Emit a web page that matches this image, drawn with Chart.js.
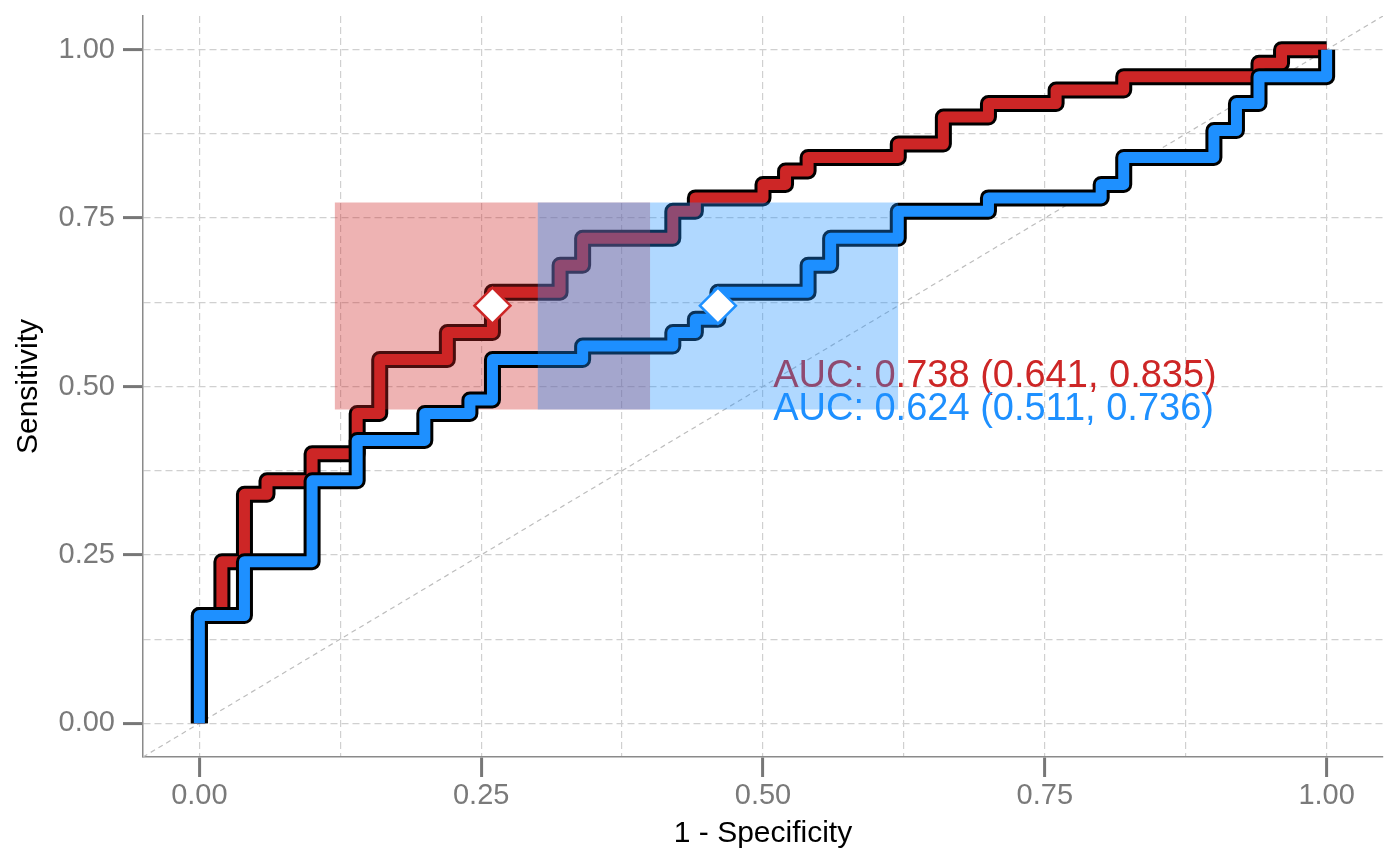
<!DOCTYPE html>
<html>
<head>
<meta charset="utf-8">
<script src="https://cdn.jsdelivr.net/npm/chart.js@4.4.1/dist/chart.umd.min.js"></script>
<style>
  html, body { margin: 0; padding: 0; background: #fff; }
  canvas { display: block; }
</style>
</head>
<body>
<canvas id="roc" width="1400" height="866"></canvas>
<script>
// ROC steps: 1 - specificity and the sensitivity reached at that point
var redFpr = [0, 0, 0.02, 0.04, 0.06, 0.10, 0.14, 0.16, 0.22, 0.26, 0.32, 0.34, 0.42, 0.44, 0.50, 0.52, 0.54, 0.62, 0.66, 0.70, 0.76, 0.82, 0.94, 0.96, 1.00];
var redTpr = [0, 0.16, 0.24, 0.34, 0.36, 0.40, 0.46, 0.54, 0.58, 0.64, 0.68, 0.72, 0.76, 0.78, 0.80, 0.82, 0.84, 0.86, 0.90, 0.92, 0.94, 0.96, 0.98, 1.00, 1.00];
var blueFpr = [0, 0, 0.04, 0.10, 0.14, 0.20, 0.24, 0.26, 0.34, 0.42, 0.44, 0.46, 0.54, 0.56, 0.62, 0.70, 0.80, 0.82, 0.90, 0.92, 0.94, 1.00];
var blueTpr = [0, 0.16, 0.24, 0.36, 0.42, 0.46, 0.48, 0.54, 0.56, 0.58, 0.60, 0.64, 0.68, 0.72, 0.76, 0.78, 0.80, 0.84, 0.88, 0.92, 0.96, 1.00];

// best threshold (fpr, tpr)
var redBest = [0.26, 0.62];
var blueBest = [0.46, 0.62];

// confidence boxes [from, to]
var redBoxFpr = [0.12, 0.40];
var redBoxTpr = [0.466, 0.773];
var blueBoxFpr = [0.30, 0.62];
var blueBoxTpr = [0.466, 0.773];

var redAuc = 'AUC: 0.738 (0.641, 0.835)';
var blueAuc = 'AUC: 0.624 (0.511, 0.736)';

var axisRange = [-0.05, 1.05];
var tickValues = [0, 0.25, 0.5, 0.75, 1];
var tickLabels = ['0.00', '0.25', '0.50', '0.75', '1.00'];
var minorValues = [0.125, 0.375, 0.625, 0.875];

var RED = '#cd2626', BLUE = '#1e90ff';
var FONT = '"Liberation Sans", Arial, Helvetica, sans-serif';
Chart.defaults.font.family = FONT;

function points(xs, ys) {
  return xs.map(function (x, i) { return {x: x, y: ys[i]}; });
}

function stepLine(label, xs, ys, color, width) {
  return {
    label: label, data: points(xs, ys), stepped: 'before',
    borderColor: color, borderWidth: width,
    borderJoinStyle: 'round', borderCapStyle: 'butt',
    pointRadius: 0, pointHoverRadius: 0, fill: false
  };
}

function box(label, xs, ys, color) {
  return {
    label: label,
    data: [{x: xs[0], y: ys[1]}, {x: xs[1], y: ys[1]}],
    borderWidth: 0, borderColor: 'rgba(0,0,0,0)',
    backgroundColor: color, fill: {value: ys[0]},
    pointRadius: 0, pointHoverRadius: 0
  };
}

function marker(label, pt, color) {
  return {
    label: label, data: [{x: pt[0], y: pt[1]}], showLine: false,
    pointStyle: 'rectRot', pointRadius: 18, pointHoverRadius: 18,
    pointBackgroundColor: '#fff', pointBorderColor: color, pointBorderWidth: 2.5
  };
}

// listed bottom to top
var datasets = [
  {
    label: 'diagonal', data: points(axisRange, axisRange),
    borderColor: '#bdbdbd', borderWidth: 1.2, borderDash: [5, 4],
    pointRadius: 0, pointHoverRadius: 0, fill: false
  },
  stepLine('red outline', redFpr, redTpr, '#000', 17),
  stepLine('red', redFpr, redTpr, RED, 11),
  box('red box', redBoxFpr, redBoxTpr, 'rgba(205,38,38,0.35)'),
  stepLine('blue outline', blueFpr, blueTpr, '#000', 17),
  stepLine('blue', blueFpr, blueTpr, BLUE, 11),
  box('blue box', blueBoxFpr, blueBoxTpr, 'rgba(30,144,255,0.35)'),
  marker('red best', redBest, RED),
  marker('blue best', blueBest, BLUE)
];
datasets.forEach(function (d, i) { d.order = datasets.length - i; });

function isMajor(v) { return tickValues.indexOf(v) >= 0; }

function axis(title, titlePad, tickPad, size) {
  return {
    type: 'linear', min: axisRange[0], max: axisRange[1],
    afterBuildTicks: function (scale) {
      scale.ticks = tickValues.concat(minorValues)
        .sort(function (a, b) { return a - b; })
        .map(function (v) { return {value: v}; });
    },
    afterFit: function (s) {
      size(s);
      s.paddingTop = s.paddingBottom = s.paddingLeft = s.paddingRight = 0;
    },
    ticks: {
      autoSkip: false, maxRotation: 0, padding: tickPad,
      color: '#7a7a7a', font: {size: 29},
      callback: function (v) {
        var i = tickValues.indexOf(v);
        return i < 0 ? '' : tickLabels[i];
      }
    },
    grid: {
      color: '#d0d0d0', lineWidth: 1.2, tickLength: 20, tickWidth: 3,
      tickColor: function (c) {
        return c.tick && isMajor(c.tick.value) ? '#777' : 'rgba(0,0,0,0)';
      }
    },
    border: { display: true, color: '#8a8a8a', width: 1.5, dash: [7, 4] },
    title: { display: true, text: title, color: '#000', font: {size: 30}, padding: titlePad }
  };
}

// AUC text sits under the blue box, so draw it right after the blue line
var aucLabels = {
  id: 'aucLabels',
  afterDatasetDraw: function (chart, args) {
    if (chart.data.datasets[args.index].label !== 'blue') return;
    var ctx = chart.ctx, sx = chart.scales.x, sy = chart.scales.y;
    ctx.save();
    ctx.font = '38px ' + FONT;
    ctx.textAlign = 'left';
    ctx.textBaseline = 'alphabetic';
    ctx.fillStyle = RED;
    ctx.fillText(redAuc, sx.getPixelForValue(0.509), sy.getPixelForValue(0.50));
    ctx.fillStyle = BLUE;
    ctx.fillText(blueAuc, sx.getPixelForValue(0.509), sy.getPixelForValue(0.45));
    ctx.restore();
  }
};

new Chart(document.getElementById('roc'), {
  type: 'line',
  data: { datasets: datasets },
  plugins: [aucLabels],
  options: {
    responsive: false,
    devicePixelRatio: 1,
    animation: false,
    events: [],
    layout: { autoPadding: false, padding: { left: 0, right: 17, top: 16, bottom: 0 } },
    plugins: { legend: { display: false }, tooltip: { enabled: false } },
    scales: {
      x: axis('1 - Specificity', {top: 0, bottom: 14}, 2, function (s) { s.height = 109; }),
      y: axis('Sensitivity', {top: 11, bottom: 0}, 8, function (s) { s.width = 143; })
    }
  }
});
</script>
</body>
</html>
